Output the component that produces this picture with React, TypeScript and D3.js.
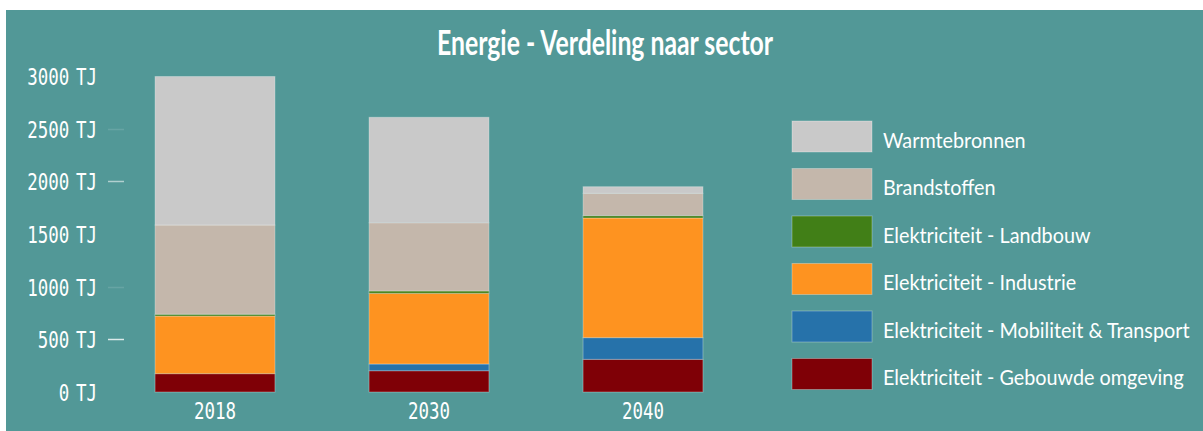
import * as d3 from "d3";

// values in TJ
const years = ["2018", "2030", "2040"];
const seriesNames = [
  "Elektriciteit - Gebouwde omgeving",
  "Elektriciteit - Mobiliteit & Transport",
  "Elektriciteit - Industrie",
  "Elektriciteit - Landbouw",
  "Brandstoffen",
  "Warmtebronnen",
];
const gebouwde = [174, 202, 310];
const mobiliteit = [0, 64, 206];
const industrie = [547, 671, 1136];
const landbouw = [17, 22, 22];
const brandstoffen = [847, 648, 212];
const warmte = [1410, 1001, 63];
const seriesColors = ["#7f0006", "#2672aa", "#fe9320", "#417f17", "#c4b7ab", "#c9c9c9"];
const yTicks = [0, 500, 1000, 1500, 2000, 2500, 3000];
const tickMarkOpacity = [0, 0.8, 0.12, 0, 0.55, 0.12, 0];

const W = 1203;
const H = 431;
const BG = "#529897";

export default function App() {
  const values = [gebouwde, mobiliteit, industrie, landbouw, brandstoffen, warmte];
  const rows = years.map((year, i) => {
    const row: any = { year };
    seriesNames.forEach((s, k) => (row[s] = values[k][i]));
    return row;
  });
  const stacked = d3.stack().keys(seriesNames)(rows);

  const x = d3.scaleBand().domain(years).range([108, 750]).paddingInner(0.44).paddingOuter(0.22);
  const y = d3.scaleLinear().domain([0, 3000]).range([392, 76]);

  const monoFont = "'DejaVu Sans Mono', 'Liberation Mono', monospace";
  const legendFont = "Lato, 'Open Sans', sans-serif";

  // legend layout
  const legendOrder = [...seriesNames].reverse();
  const legendY = d3.scalePoint().domain(legendOrder).range([121, 358.5]);

  return (
    <svg width={W} height={H} style={{ position: "absolute", left: 0, top: 0 }}>
      <rect x={0} y={0} width={W} height={H} fill="#fff" />
      <rect x={6} y={10} width={W - 6} height={H - 10} fill={BG} />

      <text
        x={605}
        y={55}
        textAnchor="middle"
        fill="#fff"
        fontFamily="Lato, 'Open Sans', sans-serif"
        fontWeight="bold"
        fontSize={35}
        textLength={336}
        lengthAdjust="spacingAndGlyphs"
      >
        Energie - Verdeling naar sector
      </text>

      {/* y axis */}
      {yTicks.map((t, i) => (
        <g key={t}>
          <line
            x1={108}
            x2={124}
            y1={Math.round(y(t)) + 0.5}
            y2={Math.round(y(t)) + 0.5}
            stroke="#fff"
            strokeWidth={1.5}
            opacity={tickMarkOpacity[i]}
          />
          <g transform={`translate(97,${y(t) + 9}) scale(0.76,1)`}>
            <text textAnchor="end" fill="#fff" fontFamily={monoFont} fontSize={23} wordSpacing={-5}>
              {`${t} TJ`}
            </text>
          </g>
        </g>
      ))}

      {/* stacked bars */}
      {stacked.map((layer, k) => (
        <g key={layer.key} fill={seriesColors[k]}>
          {layer.map((d: any) => (
            <rect
              key={d.data.year}
              x={x(d.data.year)}
              y={y(d[1])}
              width={x.bandwidth()}
              height={Math.max(0, y(d[0]) - y(d[1]))}
              stroke="rgba(255,255,255,0.3)"
              strokeWidth={1}
            />
          ))}
        </g>
      ))}

      {/* x labels */}
      {years.map((yr) => (
        <g key={yr} transform={`translate(${(x(yr) as number) + x.bandwidth() / 2},419) scale(0.76,1)`}>
          <text textAnchor="middle" fill="#fff" fontFamily={monoFont} fontSize={23}>
            {yr}
          </text>
        </g>
      ))}

      {/* legend */}
      {legendOrder.map((name) => {
        const k = seriesNames.indexOf(name);
        const ly = legendY(name) as number;
        return (
          <g key={name} transform={`translate(792,${ly})`}>
            <rect
              width={80}
              height={31}
              fill={seriesColors[k]}
              stroke="rgba(255,255,255,0.3)"
              strokeWidth={1}
            />
            <g transform="translate(91,26.5) scale(0.9,1)">
              <text fill="#fff" fontFamily={legendFont} fontSize={22}>
                {name}
              </text>
            </g>
          </g>
        );
      })}
    </svg>
  );
}
